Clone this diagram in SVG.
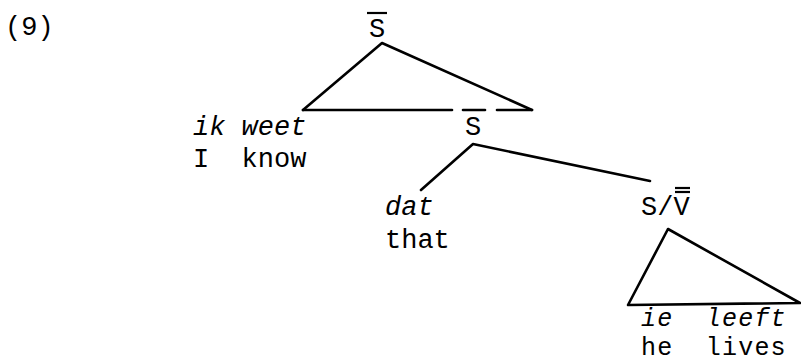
<svg xmlns="http://www.w3.org/2000/svg" width="801" height="363" viewBox="0 0 801 363">
<style>
text{font-family:"Liberation Mono","Courier New",monospace;font-size:27px;fill:#000}
.it{font-style:italic}
.sm{font-size:25px;letter-spacing:1.2px}
.ln{stroke:#000;stroke-width:2.6;fill:none;stroke-linecap:round;stroke-linejoin:round}
.bar{stroke:#000;stroke-width:2.2}
</style>
<rect width="801" height="363" fill="#fff"/>
<g id="label"><text x="5" y="35">(9)</text></g>
<g id="node-Sbar-top">
<text x="369" y="37">S</text>
<line class="bar" x1="367" y1="13" x2="387" y2="13"/>
</g>
<g id="node-ikweet">
<text class="it" x="193" y="135" xml:space="preserve">ik weet</text>
<text x="193" y="167" xml:space="preserve">I  know</text>
</g>
<g id="node-Sbar-mid">
<text x="465" y="135">S</text>
</g>
<g id="node-dat">
<text class="it" x="385" y="215">dat</text>
<text x="385" y="248">that</text>
</g>
<g id="node-SV">
<text x="641" y="215">S/V</text>
<line class="bar" x1="675" y1="188" x2="690" y2="188"/>
<line class="bar" x1="675" y1="192" x2="690" y2="192"/>
</g>
<g id="node-ieleeft">
<text class="it sm" x="641" y="326" xml:space="preserve">ie  leeft</text>
<text class="sm" x="641" y="355" xml:space="preserve">he  lives</text>
</g>
<g id="connectors">
<polyline class="ln" points="303,110 382,43 532,110"/>
<line class="ln" x1="303" y1="110" x2="452" y2="110"/>
<line class="ln" x1="463" y1="110" x2="485" y2="110"/>
<line class="ln" x1="497" y1="110" x2="532" y2="110"/>
<polyline class="ln" points="421,190 473,144 650,181"/>
<polygon class="ln" points="668,229 628,305 800,303"/>
</g>
</svg>
